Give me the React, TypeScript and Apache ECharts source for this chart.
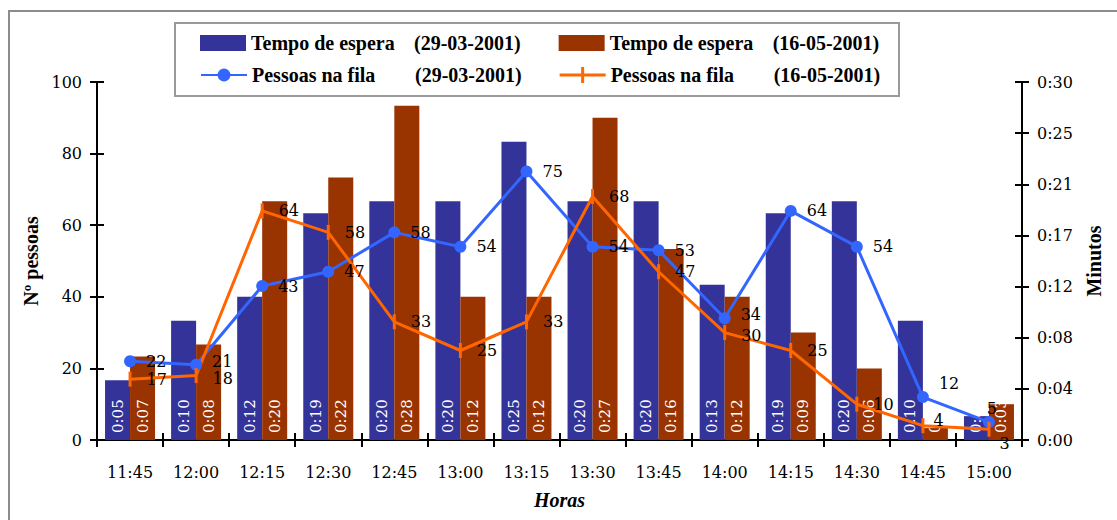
import React, { useEffect, useRef } from "react";
import * as echarts from "echarts";

// Horário das observações
const hours = ["11:45", "12:00", "12:15", "12:30", "12:45", "13:00", "13:15", "13:30", "13:45", "14:00", "14:15", "14:30", "14:45", "15:00"];

// Tempo de espera em minutos
const esperaMarco = [5, 10, 12, 19, 20, 20, 25, 20, 20, 13, 19, 20, 10, 2];
const esperaMaio = [7, 8, 20, 22, 28, 12, 12, 27, 16, 12, 9, 6, 1, 3];

// Número de pessoas na fila
const filaMarco = [22, 21, 43, 47, 58, 54, 75, 54, 53, 34, 64, 54, 12, 5];
const filaMaio = [17, 18, 64, 58, 33, 25, 33, 68, 47, 30, 25, 10, 4, 3];

const NAME_T1 = "Tempo de espera (29-03-2001)";
const NAME_T2 = "Tempo de espera (16-05-2001)";
const NAME_P1 = "Pessoas na fila (29-03-2001)";
const NAME_P2 = "Pessoas na fila (16-05-2001)";

const SERIF = "DejaVu Serif";
const BOLD_SERIF = "Liberation Serif";

const pad2 = (n: number) => (n < 10 ? "0" + n : "" + n);
const asTime = (min: number) => "0:" + pad2(Math.floor(min + 1e-6));

const legendText = {
  fontFamily: BOLD_SERIF,
  fontWeight: "bold" as const,
  fontSize: 20,
  color: "#000",
  rich: {
    a: { fontFamily: BOLD_SERIF, fontWeight: "bold" as const, fontSize: 20, color: "#000", width: 163 },
    b: { fontFamily: BOLD_SERIF, fontWeight: "bold" as const, fontSize: 20, color: "#000" },
  },
};
const legendFormatter = (name: string) => {
  const i = name.indexOf(" (");
  return "{a|" + name.slice(0, i) + "}{b|" + name.slice(i + 1) + "}";
};

// per-point label nudges where neighbouring labels crowd each other
const blueOffsets: Record<number, any> = {
  1: { offset: [0, -3] },
  9: { offset: [0, -4] },
  12: { offset: [0, -14] },
  13: { position: "top", distance: 2, offset: [3, 2] },
};
const orangeOffsets: Record<number, any> = {
  1: { offset: [0, 3] },
  9: { offset: [0, 3] },
  12: { offset: [-6, -5] },
  13: { offset: [-6, 14] },
};

export default function App() {
  const ref = useRef<HTMLDivElement>(null);

  useEffect(() => {
    if (!ref.current) return;
    const chart = echarts.init(ref.current, null, { renderer: "svg" });

    const barLabel = {
      show: true,
      position: "insideBottom" as const,
      rotate: 90,
      align: "left" as const,
      verticalAlign: "middle" as const,
      distance: 7,
      color: "#fff",
      fontFamily: SERIF,
      fontSize: 15,
      formatter: (p: any) => asTime(p.value),
    };

    const pointLabel = { fontFamily: SERIF, fontSize: 16, color: "#000" };

    const blueData = filaMarco.map((v, i) => (blueOffsets[i] ? { value: v, label: blueOffsets[i] } : v));
    const orangeData = filaMaio.map((v, i) => (orangeOffsets[i] ? { value: v, label: orangeOffsets[i] } : v));

    const axisLine = { show: true, lineStyle: { color: "#000", width: 2 } };
    const tickStyle = { color: "#000", width: 2 };
    const tickLabel = { fontFamily: SERIF, fontSize: 16, color: "#000" };

    chart.setOption({
      animation: false,
      backgroundColor: "#fff",
      grid: { left: 97, right: 95, top: 82, bottom: 80, containLabel: false },
      graphic: [
        {
          type: "rect",
          shape: { x: 9, y: 11, width: 1300, height: 700 },
          style: { fill: "none", stroke: "#8c8c8c", lineWidth: 2 },
          silent: true,
        },
        {
          type: "rect",
          shape: { x: 175, y: 23, width: 724, height: 73 },
          style: { fill: "none", stroke: "#9a9a9a", lineWidth: 2 },
          silent: true,
        },
      ],
      legend: [
        {
          data: [NAME_T1, NAME_T2],
          left: 200,
          top: 33,
          padding: 0,
          itemWidth: 46,
          itemHeight: 16,
          itemGap: 38,
          icon: "rect",
          selectedMode: false,
          formatter: legendFormatter,
          textStyle: legendText,
        },
        {
          data: [
            { name: NAME_P1 },
            { name: NAME_P2, icon: "path://M0,6.5 L46,6.5 L46,9.5 L0,9.5 Z M21.5,0 L24.5,0 L24.5,16 L21.5,16 Z" },
          ],
          left: 200,
          top: 65,
          padding: 0,
          itemWidth: 46,
          itemHeight: 16,
          itemGap: 38,
          selectedMode: false,
          formatter: legendFormatter,
          textStyle: legendText,
        },
      ],
      xAxis: [
        {
          type: "category",
          data: hours,
          position: "bottom",
          axisLine,
          axisTick: { show: true, length: 7, lineStyle: tickStyle },
          axisLabel: { ...tickLabel, margin: 24, interval: 0 },
          name: "Horas",
          nameLocation: "middle",
          nameGap: 50,
          nameTextStyle: { fontFamily: BOLD_SERIF, fontWeight: "bold", fontStyle: "italic", fontSize: 20, color: "#000" },
        },
        {
          type: "category",
          data: hours,
          position: "bottom",
          axisLine: { show: false },
          axisTick: { show: true, inside: true, length: 7, lineStyle: tickStyle },
          axisLabel: { show: false },
        },
      ],
      yAxis: [
        {
          type: "value",
          position: "left",
          min: 0,
          max: 100,
          interval: 20,
          axisLine,
          axisTick: { show: true, length: 7, lineStyle: tickStyle },
          axisLabel: { ...tickLabel, margin: 15 },
          splitLine: { show: false },
          name: "Nº pessoas",
          nameLocation: "middle",
          nameRotate: 90,
          nameGap: 55,
          nameTextStyle: { fontFamily: BOLD_SERIF, fontWeight: "bold", fontSize: 20, color: "#000" },
        },
        {
          type: "value",
          position: "right",
          min: 0,
          max: 30,
          interval: 30 / 7,
          axisLine,
          axisTick: { show: true, length: 7, lineStyle: tickStyle },
          axisLabel: { ...tickLabel, margin: 15, formatter: (v: number) => asTime(v) },
          splitLine: { show: false },
          name: "Minutos",
          nameLocation: "middle",
          nameRotate: 90,
          nameGap: 62,
          nameTextStyle: { fontFamily: BOLD_SERIF, fontWeight: "bold", fontSize: 20, color: "#000" },
        },
        {
          type: "value",
          position: "left",
          min: 0,
          max: 100,
          interval: 20,
          axisLine: { show: false },
          axisTick: { show: true, inside: true, length: 7, lineStyle: tickStyle },
          axisLabel: { show: false },
          splitLine: { show: false },
        },
        {
          type: "value",
          position: "right",
          min: 0,
          max: 30,
          interval: 30 / 7,
          axisLine: { show: false },
          axisTick: { show: true, inside: true, length: 7, lineStyle: tickStyle },
          axisLabel: { show: false },
          splitLine: { show: false },
        },
      ],
      series: [
        {
          name: NAME_T1,
          type: "bar",
          yAxisIndex: 1,
          data: esperaMarco,
          barWidth: 25,
          barGap: "0%",
          itemStyle: { color: "#333399" },
          label: barLabel,
        },
        {
          name: NAME_T2,
          type: "bar",
          yAxisIndex: 1,
          data: esperaMaio,
          barWidth: 25,
          barGap: "0%",
          itemStyle: { color: "#993300" },
          label: barLabel,
        },
        {
          name: NAME_P1,
          type: "line",
          yAxisIndex: 0,
          data: blueData,
          color: "#3366FF",
          lineStyle: { color: "#3366FF", width: 3 },
          itemStyle: { color: "#3366FF" },
          symbol: "circle",
          symbolSize: 12,
          z: 5,
          label: { show: true, position: "right", distance: 10, ...pointLabel },
        },
        {
          name: NAME_P2,
          type: "line",
          yAxisIndex: 0,
          data: orangeData,
          color: "#FF6600",
          lineStyle: { color: "#FF6600", width: 3 },
          itemStyle: { color: "#FF6600" },
          symbol: "rect",
          symbolSize: [3, 15],
          z: 5,
          label: { show: true, position: "right", distance: 15, ...pointLabel },
        },
      ],
    });

    return () => chart.dispose();
  }, []);

  return (
    <div
      ref={ref}
      style={{ position: "absolute", left: 0, top: 0, width: 1117, height: 520, background: "#fff" }}
    />
  );
}
